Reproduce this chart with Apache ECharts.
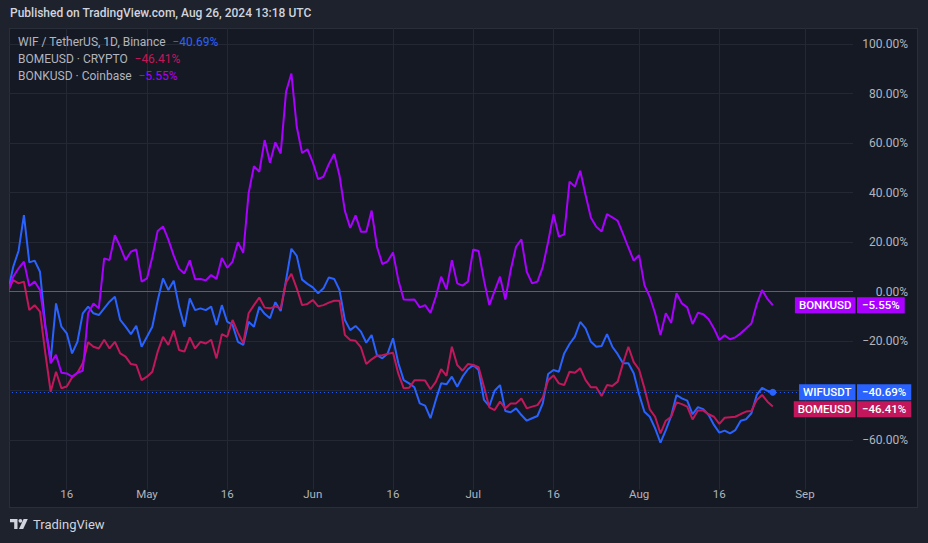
<!DOCTYPE html>
<html>
<head>
<meta charset="utf-8">
<script src="https://cdn.jsdelivr.net/npm/echarts@6/dist/echarts.min.js"></script>
<style>
html,body{margin:0;padding:0;background:#1e222d;width:928px;height:543px;overflow:hidden;font-family:Roboto,"Noto Sans",sans-serif}
#hdr{position:absolute;left:10px;top:6px;color:#d1d4dc;font-size:12px;font-weight:500;white-space:nowrap}
#panel{position:absolute;left:9px;top:28px;width:909px;height:480px;background:#151924;box-sizing:border-box;border:1px solid #2a2e39}
#chart{position:absolute;left:0;top:0;width:928px;height:543px}
#cover{position:absolute;left:0;top:28px;width:9px;height:480px;background:#1e222d}
#logo{position:absolute;left:10px;top:515px;height:18px;color:#d1d4dc;font-size:13px;display:flex;align-items:center;gap:3px;white-space:nowrap}
</style>
</head>
<body>
<div id="hdr">Published on TradingView.com, Aug 26, 2024 13:18 UTC</div>
<div id="panel"></div>
<div id="chart"></div>
<div id="cover"></div>
<div id="logo"><svg width="20" height="12" viewBox="0 0 20 12"><path d="M0 1h7.5v10H4.2V4.2H0z" fill="#d1d4dc"/><circle cx="10.4" cy="2.8" r="1.9" fill="#d1d4dc"/><path d="M13.6 1h4.2l-4.6 10H9z" fill="#d1d4dc"/></svg><span>TradingView</span></div>
<script>
// ---- data (percent change, daily, from 2024-04-05) ----
const startDate = [2024, 3, 5];          // 2024-04-05 (month 0-based)
const axisDays = 159;                     // category slots on the time axis
const seriesNames = ['WIFUSDT', 'BOMEUSD', 'BONKUSD'];
const legendNames = ['WIF / TetherUS, 1D, Binance', 'BOMEUSD \u00b7 CRYPTO', 'BONKUSD \u00b7 Coinbase'];
const xTickDates = ['2024-04-16','2024-05-01','2024-05-16','2024-06-01','2024-06-16','2024-07-01','2024-07-16','2024-08-01','2024-08-16','2024-09-01'];
const xTickLabels = ['16','May','16','Jun','16','Jul','16','Aug','16','Sep'];
const yTickValues = [-60,-40,-20,0,20,40,60,80,100];

const wif = [0,10,16.5,30.9,11.8,12.5,8,-14,-27.7,-4.8,-14.2,-16.9,-25,-20.3,-8.8,-6.1,-8.8,-9.5,-6.8,-4.1,
-2.1,-11.5,-14.2,-17.2,-13.8,-22.3,-18.3,-14.2,-3.6,5.3,0.6,4.4,-6.1,-14.2,-2.8,-7.5,-6.8,-7.5,-6.1,-13.5,
-5.5,-12.2,-13.5,-20.3,-21.6,-12.2,-14.2,-6.2,-9,-10.8,-4.3,-7.9,4.6,17.3,14.4,4.8,3.1,1.7,-0.7,1.3,
5.7,5.1,0.6,-11.5,-15.6,-13.9,-16.2,-20.7,-17.6,-25.7,-27,-25,-18.9,-29,-35.8,-37.1,-38.7,-45.2,-46.1,-51.2,
-43.8,-37.1,-37.5,-34.4,-38.5,-34.4,-31.4,-29.7,-31.7,-43.8,-46.3,-40.1,-37.8,-48.3,-48.8,-47.2,-49.9,-52.2,-51.2,-50.3,
-45.2,-33.3,-31.7,-32.4,-25,-21.2,-18.2,-12.3,-14.9,-20.3,-22.3,-22,-17.2,-22.3,-25.3,-29,-29,-33,-41.5,-48.6,
-50.6,-55.3,-61.1,-56,-50.3,-41.8,-43.2,-44.1,-49.6,-46.7,-47.5,-49.9,-53.9,-57,-56.2,-57.3,-56,-52.2,-51.6,-49.2,
-41.8,-38.9,-40.1,-40.69];

const bome = [0,4.6,3.3,4,-7.5,-5.5,-8.1,-25,-40.5,-32.4,-39.1,-38.4,-34.7,-32.8,-29,-20.5,-22.3,-23,-19.5,-23,
-20.3,-25,-26.3,-29.3,-29.7,-35.8,-34.4,-32.4,-24.3,-18.3,-21.6,-15.8,-23.6,-24.3,-18.5,-23,-20.3,-21,-19.5,-27,
-17.2,-18.3,-11.5,-16.6,-20.9,-8.8,-5.5,-2.4,-6.5,-6.8,-6,-6.8,3.7,7.2,1.3,-5.5,-5,-3.4,-6,-5.5,
-4.5,-3.7,-3.7,-17.6,-19.6,-19.9,-22.6,-29.3,-27.4,-25.9,-25.7,-25.2,-24.7,-33.3,-39.1,-38.9,-35.9,-35.8,-36,-39.5,
-36.5,-31.4,-34.1,-22.3,-29.7,-32,-29.3,-29.7,-30.6,-38.5,-46.8,-47.9,-44.5,-47.2,-45.2,-45.2,-43.2,-47.2,-46.5,-45.9,
-42.8,-35.8,-33.9,-37.1,-37.8,-32.4,-32.8,-31,-35.8,-38.7,-38.7,-42.2,-37.8,-38.2,-36.4,-29,-22.3,-28.5,-31.5,-39.1,
-47.6,-50.6,-57.3,-52.2,-50.6,-44.8,-45.5,-46.5,-51.7,-48.1,-48.1,-49.6,-50.6,-53.5,-51,-50.8,-50.6,-49.5,-48.5,-48.3,
-43.8,-41.8,-44.5,-46.41];

const bonk = [0,6,9.4,12.1,2.2,4,0.6,-14.2,-29,-25.6,-32.8,-33.1,-34.4,-32.8,-32,-8.8,-4.8,-6.8,13.4,12.7,
22.8,18.1,12.7,16.1,17,4,5.3,14,24.5,26.3,21,14.5,9.2,7.3,12.6,5,5.1,4.5,6.7,5.1,
13.6,9.6,12.1,19.9,15.7,39.7,50.7,48.4,61.2,52,60.3,55.8,80.7,88.1,66.6,56,57.5,52.2,45.4,46.4,
51.5,55.6,46.8,32.6,25.7,30.8,24.2,24.2,32.7,18.1,11.1,12.2,15.8,4.6,-3.2,-3.3,-3.2,-6.4,-5.5,-8.6,
-2.1,6,0.9,12.7,3.3,2.4,4,17,16.4,4.6,-5.5,0.3,6,-3.2,8.7,18.1,21.1,8,3.3,4,
10,20.1,31.2,22.2,23.1,44.4,42.4,48.8,39,29.8,26.2,24.3,31.3,30,28.6,23.3,17.8,12.5,14.7,2.6,
-2.1,-8.8,-17.6,-8.8,-12.6,-0.7,-4.8,-6.4,-13.1,-8.6,-9.2,-11.2,-14.9,-19.6,-17.7,-19.3,-18.5,-16.9,-14.9,-12.9,
-5.1,0.6,-3,-5.55];

// ---- styling ----
const COLORS = ['#2962ff', '#c2185b', '#aa00ff'];
const FONT = 'Roboto, "Noto Sans", sans-serif';
const TXT = '#b2b5be';
const GRIDC = '#242835';

const dates = [];
for (let i = 0; i < axisDays; i++) {
  const d = new Date(Date.UTC(startDate[0], startDate[1], startDate[2] + i));
  dates.push(d.toISOString().slice(0, 10));
}
const isTick = (i, v) => xTickDates.indexOf(v) >= 0;
const fmtPct = v => (v < 0 ? '\u2212' : '') + Math.abs(v).toFixed(2) + '%';
const data = [wif, bome, bonk];
const last = data.map(a => a[a.length - 1]);
const lastIdx = wif.length - 1;
// price-axis labels that sit under a last-value tag are covered by it (as in TradingView)
const coveredByTag = v => last.some(l => Math.abs(l - v) < 4.5);

const chart = echarts.init(document.getElementById('chart'), null, {renderer: 'svg'});

const series = data.map((arr, k) => ({
  name: seriesNames[k],
  type: 'line',
  data: arr,
  showSymbol: false,
  symbol: 'none',
  smooth: false,
  z: 3 + k,
  lineStyle: {width: 2, color: COLORS[k]},
  itemStyle: {color: COLORS[k]},
  emphasis: {disabled: true}
}));
series[0].markLine = {
  silent: true, symbol: 'none', animation: false, label: {show: false},
  data: [
    {yAxis: 0, lineStyle: {color: '#5d606b', type: 'solid', width: 1}},
    {yAxis: last[0], lineStyle: {color: COLORS[0], type: [1, 3], width: 1}}
  ]
};
series[0].markPoint = {
  silent: true, symbol: 'circle', symbolSize: 7, animation: false,
  label: {show: false}, itemStyle: {color: COLORS[0]},
  data: [{coord: [dates[lastIdx], last[0]]}]
};

chart.setOption({
  animation: false,
  backgroundColor: 'transparent',
  textStyle: {fontFamily: FONT},
  grid: {left: 7.9, right: 928 - 853.04, top: 28, bottom: 543 - 489.5, containLabel: false},
  xAxis: {
    type: 'category', data: dates, boundaryGap: false,
    axisLine: {show: false}, axisTick: {show: false},
    axisLabel: {
      interval: isTick, formatter: v => xTickLabels[xTickDates.indexOf(v)],
      color: TXT, fontSize: 11.5, fontFamily: FONT, margin: 4.5, verticalAlign: 'middle', hideOverlap: false
    },
    splitLine: {show: true, interval: isTick, lineStyle: {color: GRIDC, width: 1}}
  },
  yAxis: {
    type: 'value', position: 'right', min: -80, max: 106.5, interval: 20,
    axisLine: {show: false}, axisTick: {show: false},
    axisLabel: {
      color: TXT, fontSize: 12, fontFamily: FONT, align: 'right', margin: 55,
      formatter: v => {
        const r = Math.round(v * 100) / 100;
        return (yTickValues.indexOf(r) >= 0 && !coveredByTag(r)) ? fmtPct(r) : '';
      }
    },
    splitLine: {show: true, showMinLine: false, showMaxLine: false, lineStyle: {color: GRIDC, width: 1}}
  },
  series: series
});

// legend + last-value tags, positioned through the axis scale
const yPx = v => chart.convertToPixel({yAxisIndex: 0}, v);
const graphics = [];
legendNames.forEach((n, k) => {
  graphics.push({
    type: 'text', x: 18, y: 42 + 17 * k, z: 100,
    style: {
      text: '{n|' + n + '}  {p|' + fmtPct(last[k]) + '}',
      verticalAlign: 'middle',
      rich: {
        n: {fill: TXT, fontSize: 12, fontFamily: FONT},
        p: {fill: COLORS[k], fontSize: 12, fontFamily: FONT}
      }
    }
  });
});
const tagY = last.map(v => yPx(v));
// keep BOME tag from overlapping the WIF tag
if (Math.abs(tagY[1] - tagY[0]) < 17) tagY[1] = tagY[0] + (tagY[1] >= tagY[0] ? 17 : -17);
[2, 0, 1].forEach(k => {
  graphics.push({
    type: 'text', x: 855.5, y: tagY[k], z: 101,
    style: {
      text: seriesNames[k], fill: '#ffffff', fontSize: 11.5, fontWeight: 500, fontFamily: FONT,
      align: 'right', verticalAlign: 'middle', backgroundColor: COLORS[k], padding: [2, 4, 2, 4], lineHeight: 12
    }
  });
  graphics.push({
    type: 'text', x: 857, y: tagY[k], z: 101,
    style: {
      text: fmtPct(last[k]), fill: '#ffffff', fontSize: 11.5, fontWeight: 500, fontFamily: FONT,
      align: 'left', verticalAlign: 'middle', backgroundColor: COLORS[k], padding: [2, 5, 2, 5], lineHeight: 12
    }
  });
});
chart.setOption({graphic: graphics});
</script>
</body>
</html>
